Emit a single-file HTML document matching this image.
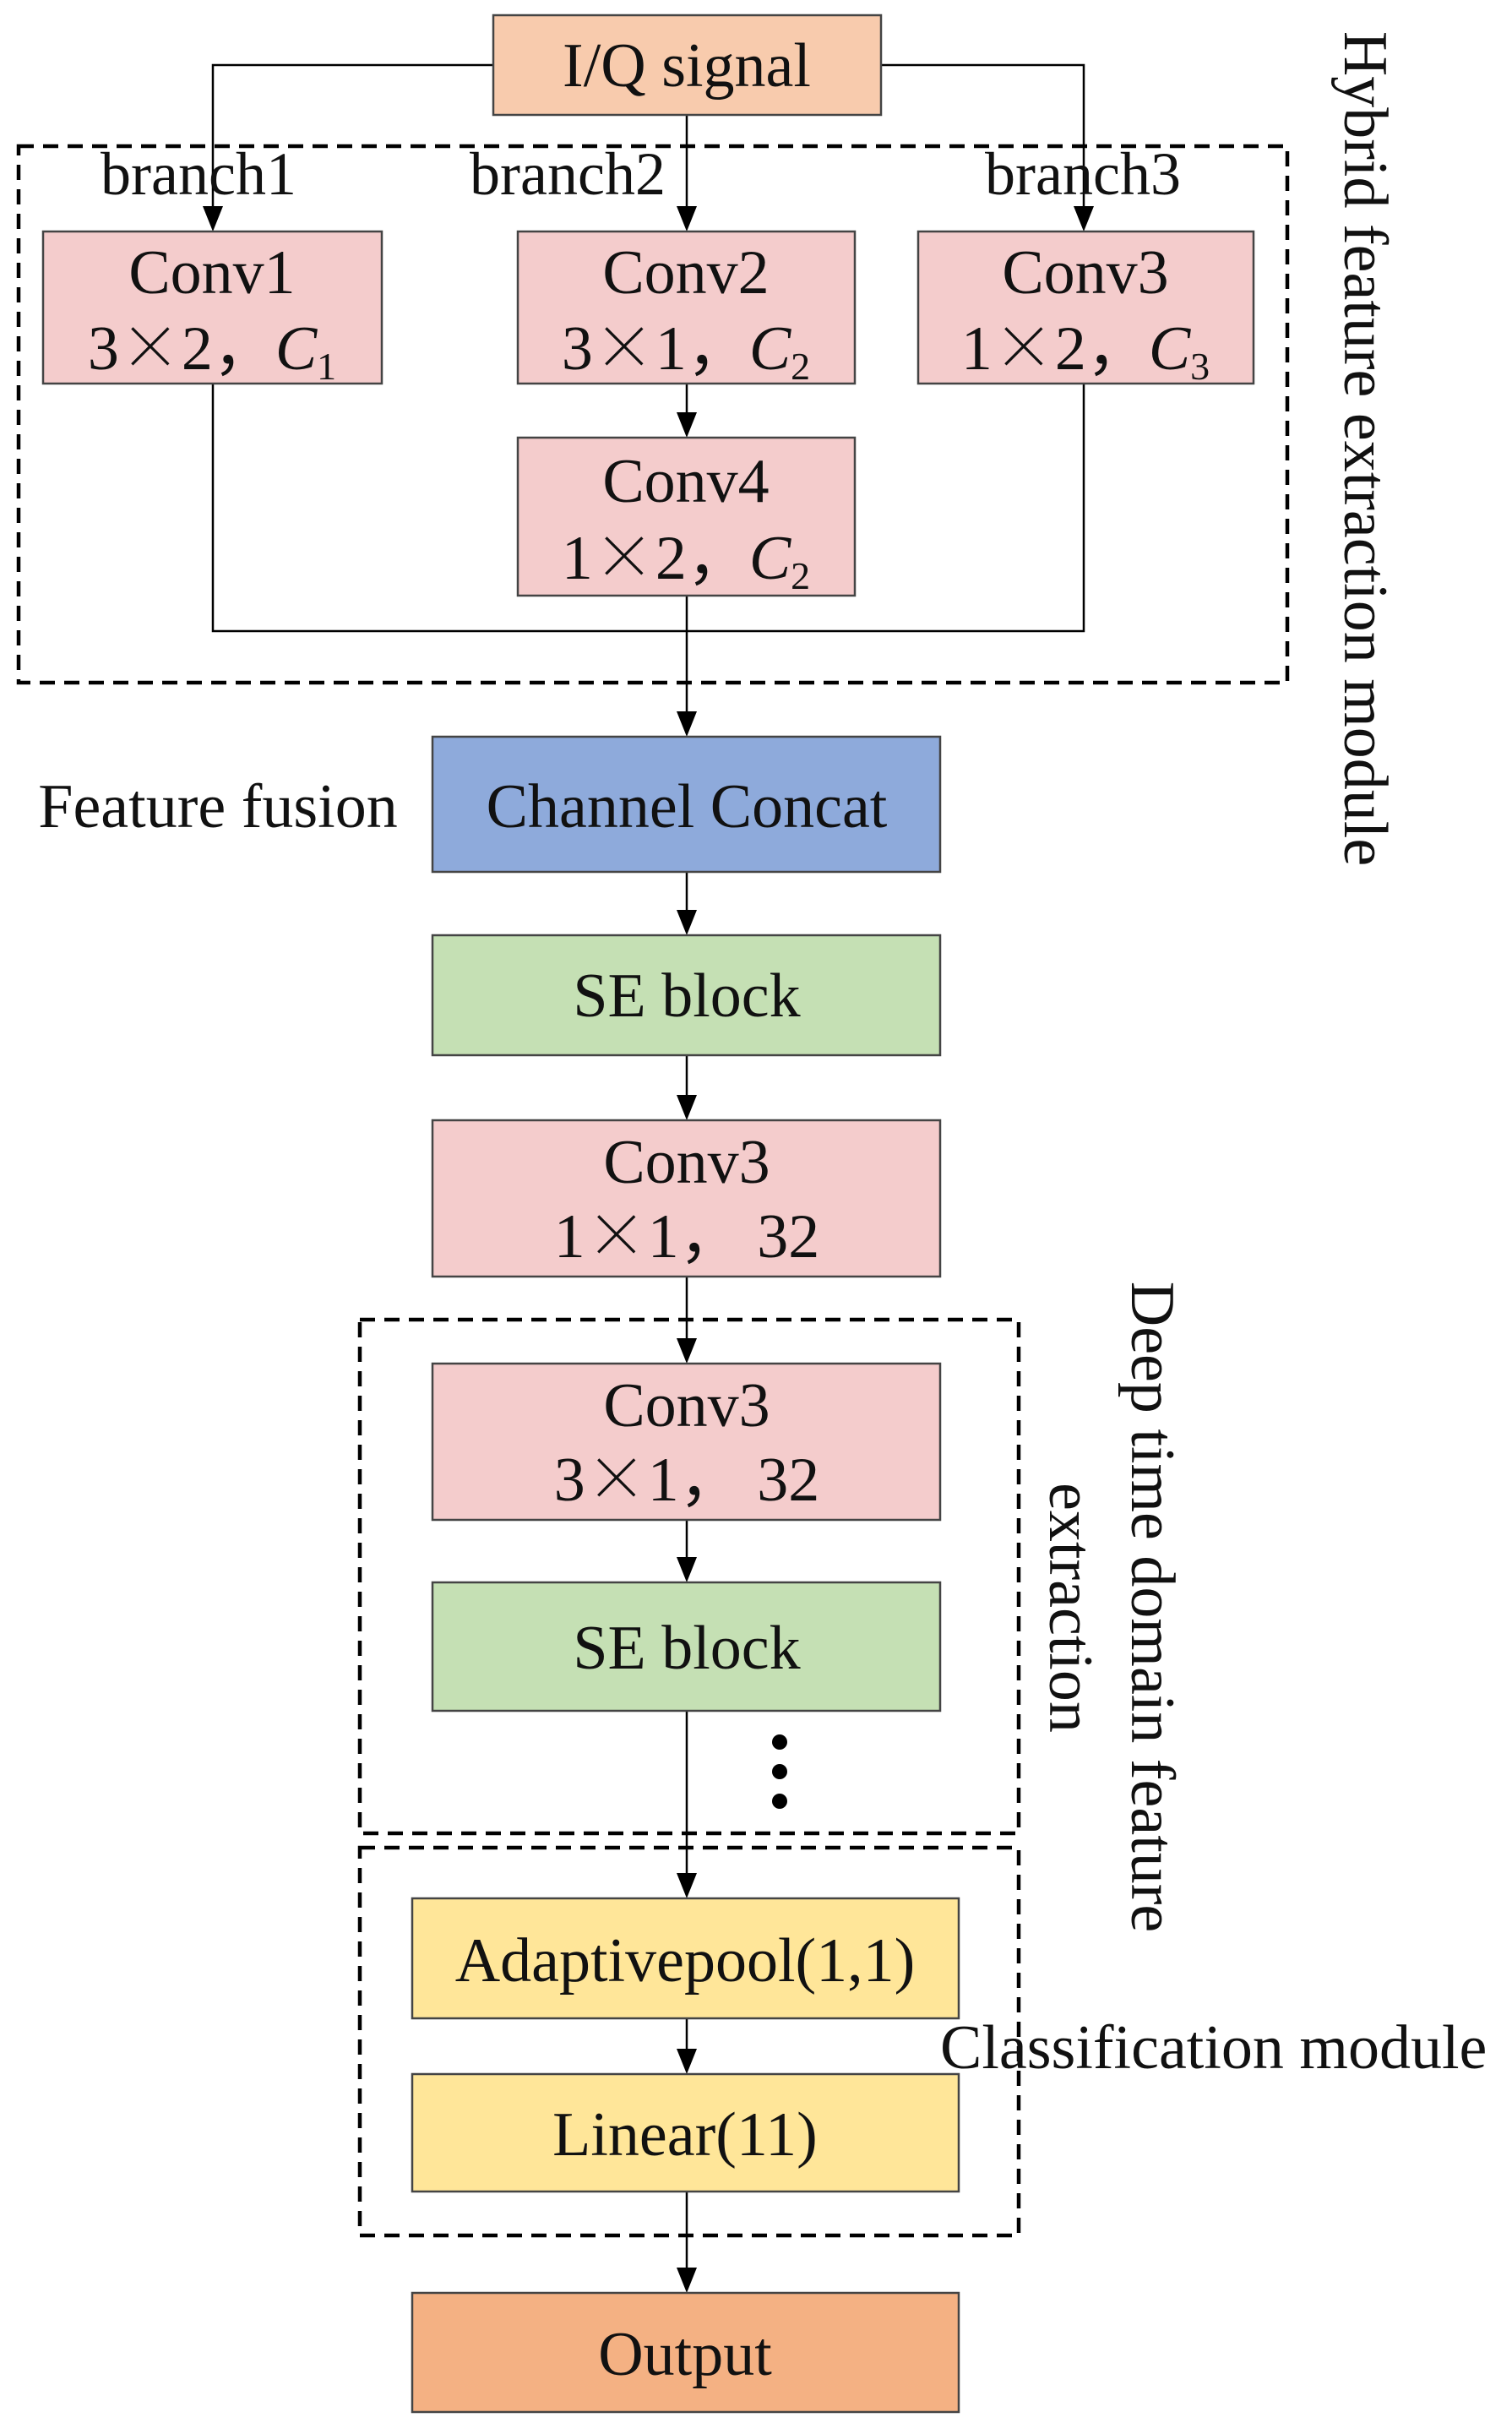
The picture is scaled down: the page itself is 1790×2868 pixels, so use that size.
<!DOCTYPE html>
<html><head><meta charset="utf-8"><style>
html,body{margin:0;padding:0;background:#fff}
svg{display:block}
text{font-family:"Liberation Serif",serif;fill:#111}
.x{font-family:"Noto Serif CJK SC","Liberation Serif",serif}
</style></head><body>
<svg width="1790" height="2868" viewBox="0 0 1790 2868" xmlns="http://www.w3.org/2000/svg">
<g stroke="#000" stroke-width="2.5" fill="none">
<polyline points="584,77 252,77 252,244"/>
<polyline points="1043,77 1283,77 1283,244"/>
<line x1="813" y1="136" x2="813" y2="244"/>
<line x1="813" y1="454" x2="813" y2="488"/>
<polyline points="252,454 252,747 1283,747 1283,454"/>
<line x1="813" y1="705" x2="813" y2="842"/>
<line x1="813" y1="1032" x2="813" y2="1077"/>
<line x1="813" y1="1249" x2="813" y2="1296"/>
<line x1="813" y1="1511" x2="813" y2="1584"/>
<line x1="813" y1="1799" x2="813" y2="1843"/>
<line x1="813" y1="2025" x2="813" y2="2217"/>
<line x1="813" y1="2389" x2="813" y2="2425"/>
<line x1="813" y1="2594" x2="813" y2="2684"/>
</g>
<g fill="#000">
<polygon points="240,244 264,244 252,274"/>
<polygon points="1271,244 1295,244 1283,274"/>
<polygon points="801,244 825,244 813,274"/>
<polygon points="801,488 825,488 813,518"/>
<polygon points="801,842 825,842 813,872"/>
<polygon points="801,1077 825,1077 813,1107"/>
<polygon points="801,1296 825,1296 813,1326"/>
<polygon points="801,1584 825,1584 813,1614"/>
<polygon points="801,1843 825,1843 813,1873"/>
<polygon points="801,2217 825,2217 813,2247"/>
<polygon points="801,2425 825,2425 813,2455"/>
<polygon points="801,2684 825,2684 813,2714"/>
<circle cx="923" cy="2062" r="9"/>
<circle cx="923" cy="2097" r="9"/>
<circle cx="923" cy="2132" r="9"/>
</g>
<g stroke="#000" stroke-width="4.5" fill="none" stroke-dasharray="18,11">
<rect x="22" y="173" width="1502" height="635"/>
<rect x="426" y="1562" width="780" height="608"/>
<rect x="426" y="2187" width="780" height="459"/>
</g>
<g stroke="#444" stroke-width="2.5">
<rect x="584" y="18" width="459" height="118" fill="#f8cbad"/>
<rect x="51" y="274" width="401" height="180" fill="#f4cccc"/>
<rect x="613" y="274" width="399" height="180" fill="#f4cccc"/>
<rect x="1087" y="274" width="397" height="180" fill="#f4cccc"/>
<rect x="613" y="518" width="399" height="187" fill="#f4cccc"/>
<rect x="512" y="872" width="601" height="160" fill="#8eaadb"/>
<rect x="512" y="1107" width="601" height="142" fill="#c5e0b4"/>
<rect x="512" y="1326" width="601" height="185" fill="#f4cccc"/>
<rect x="512" y="1614" width="601" height="185" fill="#f4cccc"/>
<rect x="512" y="1873" width="601" height="152" fill="#c5e0b4"/>
<rect x="488" y="2247" width="647" height="142" fill="#ffe699"/>
<rect x="488" y="2455" width="647" height="139" fill="#ffe699"/>
<rect x="488" y="2714" width="647" height="141" fill="#f4b183"/>
</g>
<g font-size="74" text-anchor="middle">
<text x="813" y="102">I/Q signal</text>
<text x="235" y="230" font-size="72">branch1</text>
<text x="672" y="230" font-size="72">branch2</text>
<text x="1282" y="230" font-size="72">branch3</text>
<text x="251" y="347">Conv1</text>
<text x="251" y="437">3<tspan class="x">×</tspan>2，<tspan font-style="italic">C</tspan><tspan font-size="46" dy="12">1</tspan></text>
<text x="812" y="347">Conv2</text>
<text x="812" y="437">3<tspan class="x">×</tspan>1，<tspan font-style="italic">C</tspan><tspan font-size="46" dy="12">2</tspan></text>
<text x="1285" y="347">Conv3</text>
<text x="1285" y="437">1<tspan class="x">×</tspan>2，<tspan font-style="italic">C</tspan><tspan font-size="46" dy="12">3</tspan></text>
<text x="812" y="594">Conv4</text>
<text x="812" y="685">1<tspan class="x">×</tspan>2，<tspan font-style="italic">C</tspan><tspan font-size="46" dy="12">2</tspan></text>
<text x="813" y="979">Channel Concat</text>
<text x="258" y="979">Feature fusion</text>
<text x="813" y="1203">SE block</text>
<text x="813" y="1400">Conv3</text>
<text x="813" y="1488">1<tspan class="x">×</tspan>1，  32</text>
<text x="813" y="1688">Conv3</text>
<text x="813" y="1776">3<tspan class="x">×</tspan>1，  32</text>
<text x="813" y="1975">SE block</text>
<text x="811" y="2345">Adaptivepool(1,1)</text>
<text x="811" y="2551">Linear(11)</text>
<text x="811" y="2811">Output</text>
<text x="1113" y="2448" text-anchor="start">Classification module</text>
<text transform="translate(1592,531) rotate(90)">Hybrid feature extraction module</text>
<text transform="translate(1340,1902) rotate(90)">Deep time domain feature</text>
<text transform="translate(1243,1903) rotate(90)">extraction</text>
</g>
</svg>
</body></html>
